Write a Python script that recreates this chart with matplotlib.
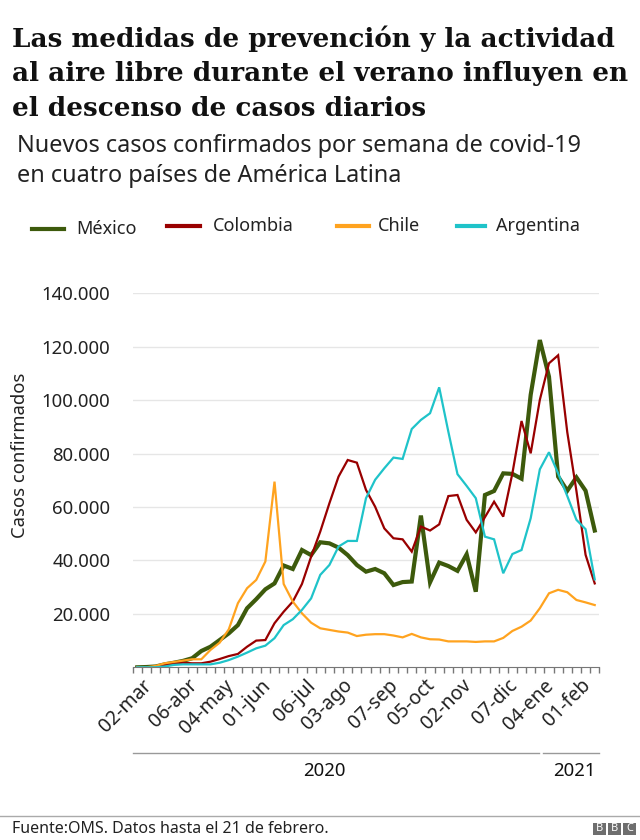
import matplotlib
matplotlib.use("Agg")
import matplotlib.pyplot as plt
import matplotlib.transforms as mtransforms
from matplotlib.lines import Line2D
from matplotlib.patches import Rectangle
import numpy as np

plt.rcParams['font.family'] = ['Noto Sans', 'DejaVu Sans']

# semanas desde 02-mar-2020 hasta 15-feb-2021 (51 semanas)
n_weeks = 51
tick_idx = [0, 5, 9, 13, 18, 22, 27, 31, 35, 40, 44, 48]
tick_labels = ["02-mar", "06-abr", "04-may", "01-jun", "06-jul", "03-ago",
               "07-sep", "05-oct", "02-nov", "07-dic", "04-ene", "01-feb"]

mexico = [0, 100, 300, 1100, 1700, 2400, 3400, 6100, 7700, 10200,
          12700, 15800, 22100, 25500, 29200, 31400, 38100, 36800, 43900, 42000,
          46800, 46400, 44800, 42000, 38300, 35800, 36800, 35200, 30800, 31900,
          32100, 56800, 31800, 39200, 37900, 36100, 42300, 28300, 64500, 66000,
          72600, 72400, 70600, 102000, 122500, 108800, 71400, 66100, 71100, 66100,
          51200]
colombia = [0, 0, 50, 900, 1500, 1700, 1500, 1500, 2100, 3100,
            4200, 5000, 7700, 10000, 10200, 16500, 20800, 24600, 31200, 41400,
            50800, 61400, 71400, 77600, 76600, 66400, 60100, 52000, 48300, 47900,
            43300, 52700, 51200, 53500, 64100, 64500, 55200, 50500, 56200, 62000,
            56400, 72600, 92200, 80100, 100100, 113800, 116800, 88000, 66000, 42100,
            31400]
chile = [0, 0, 500, 1500, 2000, 2500, 3000, 3000, 6500, 9200,
         14200, 24000, 29600, 32700, 39600, 69500, 31200, 24600, 20200, 16700,
         14600, 14000, 13400, 13000, 11700, 12200, 12400, 12400, 11900, 11200,
         12500, 11200, 10500, 10400, 9700, 9700, 9700, 9500, 9700, 9700,
         11000, 13600, 15200, 17500, 22100, 27700, 29000, 28100, 25200, 24300,
         23300]
argentina = [0, 0, 0, 300, 900, 1100, 1100, 1100, 1100, 1700,
             2700, 4000, 5500, 7100, 8100, 10900, 15800, 18000, 21500, 25800,
             34600, 38300, 45200, 47300, 47300, 63300, 70200, 74500, 78500, 78000,
             89200, 92600, 95100, 104800, 88200, 72300, 67900, 63300, 48900, 47900,
             35200, 42400, 43900, 55800, 74100, 80500, 72600, 64100, 55200, 51700,
             32900]

names = ["México", "Colombia", "Chile", "Argentina"]
colors = ["#3d5a0c", "#990000", "#ffa31f", "#1fc3c9"]
widths = [3.0, 1.6, 1.6, 1.6]

W, H = 640, 840
fig = plt.figure(figsize=(W / 100, H / 100), dpi=100)
ax = fig.add_axes([132.7 / W, (H - 667.3) / H, 466.6 / W, 374 / H])

x = np.arange(n_weeks)
series = [mexico, colombia, chile, argentina]
for vals, c, lw in zip(series, colors, widths):
    ax.plot(x, vals, color=c, lw=lw, solid_joinstyle='miter', zorder=3)

ax.set_xlim(-0.5, n_weeks - 0.5)
ax.set_ylim(0, 140000)
yt = np.arange(20000, 140001, 20000)
ax.set_yticks(yt)
ax.set_yticklabels([f"{v:,}".replace(",", ".") for v in yt], fontsize=13.4, color='#222222')
ax.tick_params(axis='y', length=0, pad=16)
ax.yaxis.grid(True, color='#e6e6e6', lw=1)
ax.set_axisbelow(True)

ax.set_xticks(tick_idx)
ax.set_xticklabels(tick_labels, rotation=45, ha='right', rotation_mode='anchor',
                   fontsize=14, color='#222222')
ax.set_xticks(np.arange(-0.5, n_weeks, 1), minor=True)
ax.tick_params(axis='x', which='major', length=0, pad=6)
ax.tick_params(axis='x', which='minor', length=4, color='#777777', width=1)
shift = mtransforms.ScaledTranslation(3 / 72, 0, fig.dpi_scale_trans)
for lab in ax.get_xticklabels():
    lab.set_transform(lab.get_transform() + shift)

for s in ['top', 'right', 'left']:
    ax.spines[s].set_visible(False)
ax.spines['bottom'].set_color('#777777')

# soportes de los años
trans = mtransforms.blended_transform_factory(ax.transData, fig.transFigure)
yb = 1 - 753 / H
ax.add_artist(Line2D([-0.5, 43.95], [yb, yb], transform=trans, color='#999999', lw=1, clip_on=False))
ax.add_artist(Line2D([44.35, 50.5], [yb, yb], transform=trans, color='#999999', lw=1, clip_on=False))
ax.text(20.4, 1 - 771 / H, "2020", transform=trans, ha='center', va='center',
        fontsize=13.4, fontweight='bold', color='#111111')
ax.text(47.8, 1 - 771 / H, "2021", transform=trans, ha='center', va='center',
        fontsize=13.4, fontweight='bold', color='#111111')

fig.text(20 / W, 1 - 455 / H, "Casos confirmados", rotation=90, ha='center', va='center',
         fontsize=13.3, color='#222222')

# títulos
title_lines = ["Las medidas de prevención y la actividad",
               "al aire libre durante el verano influyen en",
               "el descenso de casos diarios"]
for line, yb_t in zip(title_lines, [46.7, 81.5, 116]):
    fig.text(12 / W, 1 - yb_t / H, line, family='DejaVu Serif', fontweight='bold',
             fontsize=18.9, color='#111111', ha='left', va='baseline')
sub_lines = ["Nuevos casos confirmados por semana de covid-19",
             "en cuatro países de América Latina"]
for line, yb_t in zip(sub_lines, [152, 182]):
    fig.text(17 / W, 1 - yb_t / H, line, fontsize=16.9, color='#222222',
             ha='left', va='baseline')

# leyenda
leg_x = [(32, 63.6, 76.7, 229), (167.4, 199.8, 212.5, 226), (337, 369, 378, 226), (457.4, 485.3, 496.4, 226)]
for (x0, x1, xt, yy), name, c in zip(leg_x, names, colors):
    fig.add_artist(Line2D([x0 / W, x1 / W], [1 - yy / H, 1 - yy / H], color=c, lw=3))
    fig.text(xt / W, 1 - yy / H, name, fontsize=13, color='#222222', ha='left', va='center')

# pie
fig.add_artist(Line2D([0, 1], [1 - 816 / H, 1 - 816 / H], color='#aaaaaa', lw=1))
fig.text(12 / W, 1 - 829 / H, "Fuente:OMS. Datos hasta el 21 de febrero.", fontsize=11.5,
         color='#222222', ha='left', va='center')
for i, ch in enumerate("BBC"):
    x0 = 593 + 15 * i
    fig.add_artist(Rectangle((x0 / W, 1 - 835 / H), 13 / W, 12.5 / H,
                             transform=fig.transFigure, fc='#6e6e6e', ec='none'))
    fig.text((x0 + 6.5) / W, 1 - 828.8 / H, ch, fontsize=8, color='white',
             ha='center', va='center')

fig.savefig("out.png", dpi=100, facecolor='white')
